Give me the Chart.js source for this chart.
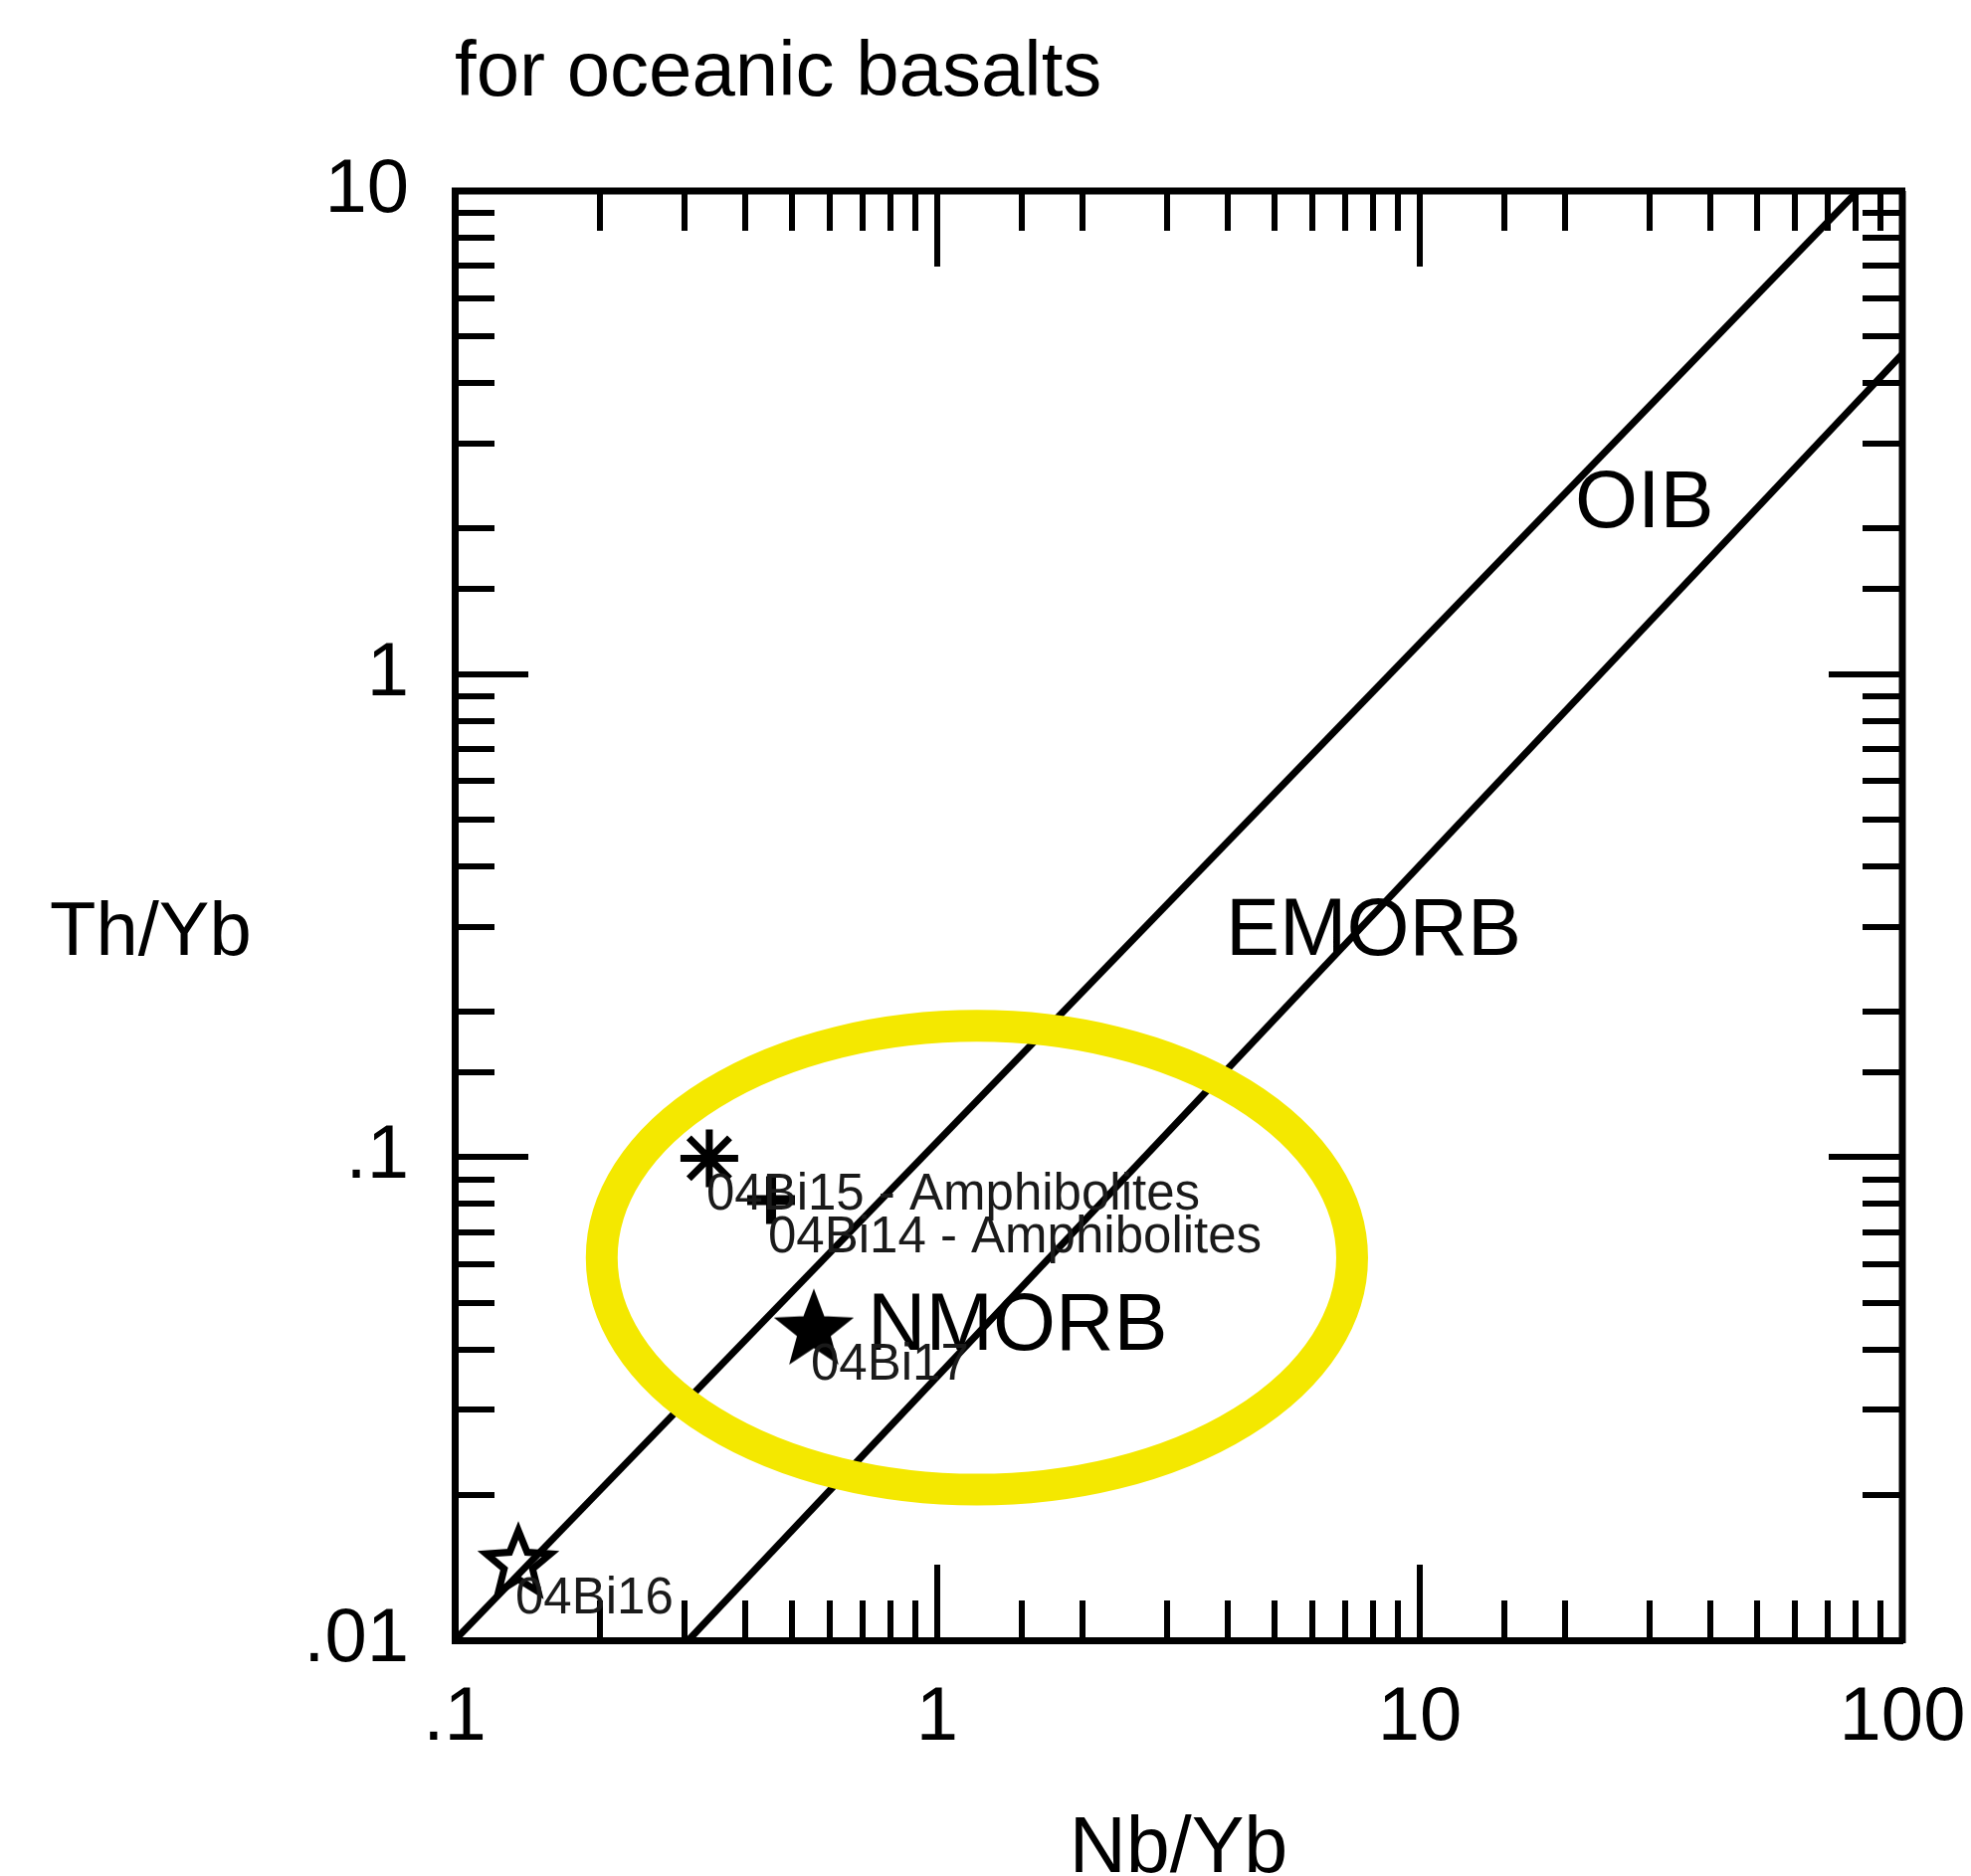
<!DOCTYPE html>
<html>
<head>
<meta charset="utf-8">
<script src="https://cdn.jsdelivr.net/npm/chart.js@4.4.1/dist/chart.umd.min.js"></script>
<style>
html,body{margin:0;padding:0;background:#ffffff;}
canvas{display:block;}
</style>
</head>
<body>
<canvas id="c" width="1981" height="1886"></canvas>
<script>
// ---------------- data ----------------
const chartTitle = 'for oceanic basalts';
const xAxisTitle = 'Nb/Yb';
const yAxisTitle = 'Th/Yb';

const xTickValues = [0.1, 1, 10, 100];
const xTickLabels = ['.1', '1', '10', '100'];
const yTickValues = [0.01, 0.1, 1, 10];
const yTickLabels = ['.01', '.1', '1', '10'];

const sampleNames = ['04Bi15 - Amphibolites', '04Bi14 - Amphibolites', '04Bi17', '04Bi16'];
const sampleNbYb  = [0.337, 0.4525, 0.555, 0.1355];
const sampleThYb  = [0.0995, 0.0815, 0.0444, 0.01455];

const upperBoundaryNbYb = [0.1, 80.8];
const upperBoundaryThYb = [0.01, 10];
const lowerBoundaryNbYb = [0.305, 100];
const lowerBoundaryThYb = [0.01, 4.6];

const fieldNames = ['OIB', 'EMORB', 'NMORB'];
const fieldNbYb  = [20.97, 3.96, 0.717];
const fieldThYb  = [2.24, 0.291, 0.0444];

const highlightNbYb = [0.2017, 7.24];
const highlightThYb = [0.0205, 0.187];

// ---------------- styling ----------------
const FONT = "'Liberation Sans', Arial, Helvetica, sans-serif";
const INK = '#000000';
const YELLOW = 'rgb(244,232,0)';

function makeStar(outerR, innerR, fill, lineW) {
  const size = Math.ceil(outerR * 2 + lineW * 2 + 6);
  const c = document.createElement('canvas');
  c.width = size; c.height = size;
  const g = c.getContext('2d');
  const cx = size / 2, cy = size / 2 + outerR * 0.08;
  g.beginPath();
  for (let i = 0; i < 10; i++) {
    const r = i % 2 === 0 ? outerR : innerR;
    const a = -Math.PI / 2 + i * Math.PI / 5;
    const px = cx + r * Math.cos(a), py = cy + r * Math.sin(a);
    if (i === 0) g.moveTo(px, py); else g.lineTo(px, py);
  }
  g.closePath();
  g.lineJoin = 'miter';
  g.fillStyle = fill;
  g.fill();
  g.lineWidth = lineW;
  g.strokeStyle = INK;
  g.stroke();
  return c;
}

const filledStar = makeStar(38, 16, INK, 3);
const openStar = makeStar(34, 15, 'rgba(255,255,255,0.7)', 7);

const sampleStyles = [
  {pointStyle: 'star', radius: 29, borderWidth: 7},
  {pointStyle: 'cross', radius: 24, borderWidth: 10},
  {pointStyle: filledStar, radius: 38, borderWidth: 0},
  {pointStyle: openStar, radius: 34, borderWidth: 0}
];

const toPoints = (xs, ys) => xs.map((x, i) => ({x: x, y: ys[i]}));

const datasets = [
  {data: toPoints(upperBoundaryNbYb, upperBoundaryThYb), showLine: true, borderColor: INK, borderWidth: 7, pointRadius: 0},
  {data: toPoints(lowerBoundaryNbYb, lowerBoundaryThYb), showLine: true, borderColor: INK, borderWidth: 7, pointRadius: 0}
];
sampleNames.forEach((name, i) => {
  const s = sampleStyles[i];
  datasets.push({
    label: name,
    data: [{x: sampleNbYb[i], y: sampleThYb[i]}],
    pointStyle: s.pointStyle,
    pointRadius: s.radius,
    pointBorderWidth: s.borderWidth,
    pointBorderColor: INK,
    pointBackgroundColor: INK,
    showLine: false
  });
});

function labelFor(values, labels) {
  return (v) => {
    const i = values.findIndex(t => Math.abs(Math.log10(t) - Math.log10(v)) < 1e-6);
    return i >= 0 ? labels[i] : '';
  };
}

const isDecade = v => Math.abs(Math.log10(v) - Math.round(Math.log10(v))) < 1e-6;

const decorPlugin = {
  id: 'decor',
  afterDatasetsDraw(chart) {
    const {ctx} = chart;
    const xs = chart.scales.x, ys = chart.scales.y;
    const x1 = xs.getPixelForValue(highlightNbYb[0]);
    const x2 = xs.getPixelForValue(highlightNbYb[1]);
    const y1 = ys.getPixelForValue(highlightThYb[1]);
    const y2 = ys.getPixelForValue(highlightThYb[0]);
    ctx.save();
    ctx.beginPath();
    ctx.ellipse((x1 + x2) / 2, (y1 + y2) / 2, (x2 - x1) / 2, (y2 - y1) / 2, 0, 0, Math.PI * 2);
    ctx.strokeStyle = YELLOW;
    ctx.lineWidth = 32;
    ctx.stroke();
    ctx.restore();
  },
  afterDraw(chart) {
    const {ctx, chartArea: a} = chart;
    const xs = chart.scales.x, ys = chart.scales.y;
    ctx.save();
    ctx.strokeStyle = INK;
    ctx.lineCap = 'butt';
    // inward ticks on all four sides
    ctx.lineWidth = 6;
    xs.ticks.forEach(t => {
      const px = Math.round(xs.getPixelForValue(t.value));
      const len = isDecade(t.value) ? 76 : 40;
      ctx.beginPath();
      ctx.moveTo(px, a.bottom); ctx.lineTo(px, a.bottom - len);
      ctx.moveTo(px, a.top); ctx.lineTo(px, a.top + len);
      ctx.stroke();
    });
    ys.ticks.forEach(t => {
      const py = Math.round(ys.getPixelForValue(t.value));
      const len = isDecade(t.value) ? 74 : 40;
      ctx.beginPath();
      ctx.moveTo(a.left, py); ctx.lineTo(a.left + len, py);
      ctx.moveTo(a.right, py); ctx.lineTo(a.right - len, py);
      ctx.stroke();
    });
    // frame top & right
    ctx.lineWidth = 7;
    ctx.beginPath();
    ctx.moveTo(a.left - 3, a.top); ctx.lineTo(a.right + 3, a.top);
    ctx.moveTo(a.right, a.top); ctx.lineTo(a.right, a.bottom + 3);
    ctx.stroke();

    ctx.fillStyle = INK;
    // chart title
    ctx.font = '78px ' + FONT;
    ctx.textAlign = 'left';
    ctx.textBaseline = 'alphabetic';
    ctx.fillText(chartTitle, a.left, 96);
    // y axis title (horizontal)
    ctx.font = '76px ' + FONT;
    ctx.fillText(yAxisTitle, 50, 960);

    // field labels
    ctx.font = '81px ' + FONT;
    ctx.textBaseline = 'middle';
    fieldNames.forEach((n, i) => {
      ctx.fillText(n, xs.getPixelForValue(fieldNbYb[i]), ys.getPixelForValue(fieldThYb[i]));
    });
    // sample labels
    ctx.font = '51px ' + FONT;
    ctx.fillStyle = '#1a1a1a';
    sampleNames.forEach((n, i) => {
      ctx.fillText(n, xs.getPixelForValue(sampleNbYb[i]) - 3, ys.getPixelForValue(sampleThYb[i]) + 38);
    });
    ctx.restore();
  }
};

new Chart(document.getElementById('c'), {
  type: 'scatter',
  data: {datasets: datasets},
  plugins: [decorPlugin],
  options: {
    responsive: false,
    animation: false,
    devicePixelRatio: 1,
    layout: {padding: {top: 192, right: 69, left: 0, bottom: 0}},
    plugins: {legend: {display: false}, tooltip: {enabled: false}, title: {display: false}},
    scales: {
      x: {
        type: 'logarithmic',
        position: 'bottom',
        min: 0.1, max: 100,
        afterFit: s => { s.height = 237; s.paddingLeft = 0; s.paddingRight = 0; },
        grid: {display: false, drawTicks: false},
        border: {display: true, color: INK, width: 7},
        ticks: {
          autoSkip: false, maxRotation: 0, minRotation: 0, padding: 33,
          color: INK, font: {family: FONT, size: 76},
          callback: labelFor(xTickValues, xTickLabels)
        },
        title: {display: true, text: xAxisTitle, color: INK, font: {family: FONT, size: 79, lineHeight: 0.66}, padding: 0}
      },
      y: {
        type: 'logarithmic',
        position: 'left',
        min: 0.01, max: 10,
        afterFit: s => { s.width = 457; s.paddingTop = 0; s.paddingBottom = 0; },
        grid: {display: false, drawTicks: false},
        border: {display: true, color: INK, width: 7},
        ticks: {
          autoSkip: false, padding: 46,
          color: INK, font: {family: FONT, size: 76},
          callback: labelFor(yTickValues, yTickLabels)
        }
      }
    }
  }
});
</script>
</body>
</html>
